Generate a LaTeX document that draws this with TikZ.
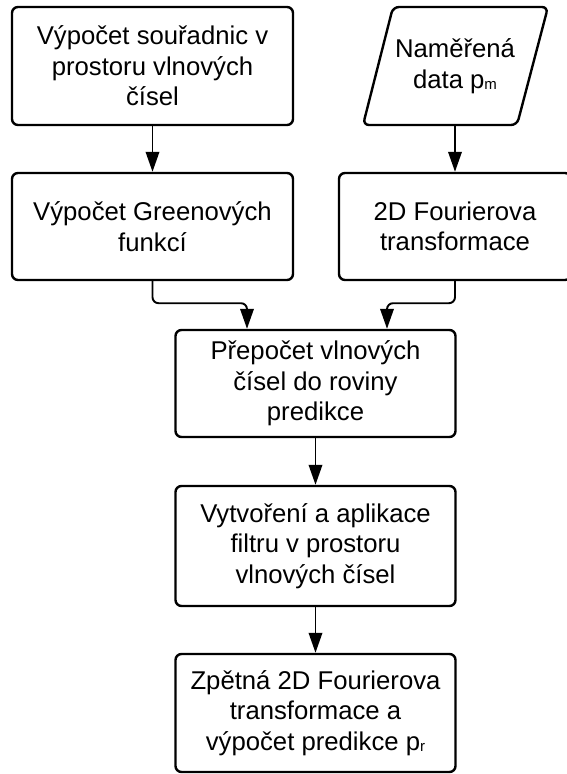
\documentclass[tikz,border=0pt]{standalone}
\usepackage{fontspec}
\setmainfont{Liberation Sans}
\usetikzlibrary{arrows.meta,calc}
\newcommand{\smallsub}[1]{{\fontsize{15}{15}\selectfont\raisebox{-1.5pt}{#1}}}
\begin{document}
\begin{tikzpicture}[x=1pt,y=-1pt,
  box/.style={draw, line width=2.4pt, rounded corners=6pt, align=center,
    font=\fontsize{25.7}{30.5}\selectfont, inner sep=0pt},
  txt/.style={align=center, font=\fontsize{25.7}{30.5}\selectfont, inner sep=0pt},
  conn/.style={line width=1.9pt, -{Triangle[length=20pt,width=13.5pt]}, rounded corners=6pt}]
\useasboundingbox (0,0) rectangle (566,774);
\node[box, minimum width=281pt, minimum height=118pt] (b1) at (152.5,66)
  {Výpočet souřadnic v\\prostoru vlnových\\čísel};
\node[txt, minimum width=155pt, minimum height=118pt] (b2) at (455,66)
  {Naměřená\\data p\smallsub{m}};
\draw[line width=2.4pt, rounded corners=6pt]
  ($(b2)+(-62,-59)$) -- ($(b2)+(93,-59)$) -- ($(b2)+(62,59)$) -- ($(b2)+(-92,59)$) -- cycle;
\node[box, minimum width=281pt, minimum height=107pt] (b3) at (152.5,226.5)
  {Výpočet Greenových\\funkcí};
\node[box, minimum width=232pt, minimum height=107pt] (b4) at (455,226.5)
  {2D Fourierova\\transformace};
\node[box, minimum width=280pt, minimum height=107pt] (b5) at (315.5,383.5)
  {Přepočet vlnových\\čísel do roviny\\predikce};
\node[box, minimum width=280pt, minimum height=120pt] (b6) at (315.5,546)
  {Vytvoření a aplikace\\filtru v prostoru\\vlnových čísel};
\node[box, minimum width=280pt, minimum height=118pt] (b7) at (315.5,713)
  {Zpětná 2D Fourierova\\transformace a\\výpočet predikce p\smallsub{r}};
\draw[conn] (b1.south) -- (b3.north);
\draw[conn] (b2.south) -- (b4.north);
\draw[conn] (b3.south) -- ++(0,22) -| ($(b5.north)+(-68.5,0)$);
\draw[conn] (b4.south) -- ++(0,22) -| ($(b5.north)+(71.5,0)$);
\draw[conn] (b5.south) -- (b6.north);
\draw[conn] (b6.south) -- (b7.north);
\end{tikzpicture}
\end{document}
